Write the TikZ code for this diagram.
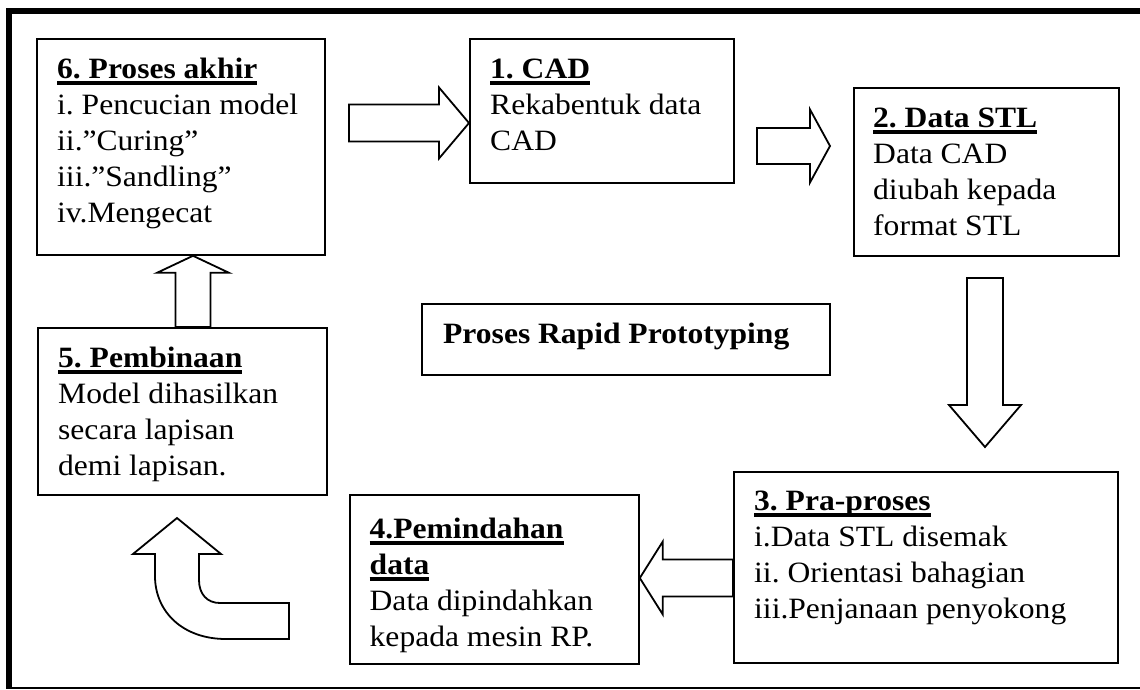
\documentclass[tikz,border=0pt]{standalone}
\usepackage{fontspec}
\setmainfont{Liberation Serif}[FakeStretch=1.07]
\usepackage{tikz}
\usetikzlibrary{calc,positioning}
\frenchspacing

% bold heading with a thick underline under it
\newcommand\tajuk[1]{\leavevmode\setbox0=\hbox{\bfseries #1}\rlap{\rule[-6.5pt]{\wd0}{3.5pt}}\box0}

\begin{document}
\begin{tikzpicture}[x=1pt,y=-1pt,
    box/.style={draw, line width=1.8pt, inner sep=0pt, anchor=north west},
    txt/.style={anchor=north west, inner sep=0pt, align=left,
        font=\fontsize{29.5}{36}\selectfont},
    arrowline/.style={draw, line width=1.8pt, fill=white, line join=miter}]
        % block arrow: tail, tip, half shaft, half head, head length
        \def\blockarrow#1#2#3#4#5{%
        \coordinate (hb) at ($(#2)!#5!(#1)$);
        \draw[arrowline] ($(#1)!#3!90:(#2)$) -- ($(hb)!#3!90:(#2)$)
        -- ($(hb)!#4!90:(#2)$) -- (#2) -- ($(hb)!#4!-90:(#2)$)
        -- ($(hb)!#3!-90:(#2)$) -- ($(#1)!#3!-90:(#2)$) -- cycle;}

        \useasboundingbox (0,0) rectangle (1140,689);

        % frame
        \draw[line width=5.5pt] (6,10.75) -- (1140,10.75);
        \draw[line width=5.5pt] (9,8) -- (9,689);
        \draw[line width=2pt] (9,688) -- (1140,688);

        % boxes
        \node[box, minimum width=288pt, minimum height=216pt] (p6) at (36,38) {};
        \node[box, minimum width=264pt, minimum height=144pt] (p1) at (469,38) {};
        \node[box, minimum width=265pt, minimum height=168pt] (p2) at (853,87) {};
        \node[box, minimum width=384pt, minimum height=191pt] (p3) at (733,471) {};
        \node[box, minimum width=289pt, minimum height=169pt] (p4) at (349,494) {};
        \node[box, minimum width=289pt, minimum height=167pt] (p5) at (37,327) {};
        \node[box, minimum width=408pt, minimum height=71pt] (judul) at (421,303) {};

        \node[txt] (t6) at ($(p6.north west)+(21,14.8)$) {\strut\tajuk{6. Proses akhir}\\
            i. Pencucian model\\ ii.”Curing”\\ iii.”Sandling”\\ iv.Mengecat};
        \node[txt] (t1) at ($(p1.north west)+(21,14.8)$) {\strut\tajuk{1. CAD}\\
            Rekabentuk data\\ CAD};
        \node[txt] (t2) at ($(p2.north west)+(20,14.8)$) {\strut\tajuk{2. Data STL}\\
            Data CAD\\ diubah kepada\\ format STL};
        \node[txt] (t3) at ($(p3.north west)+(21,13.8)$) {\strut\tajuk{3. Pra-proses}\\
            i.Data STL disemak\\ ii. Orientasi bahagian\\ iii.Penjanaan penyokong};
        \node[txt] (t4) at ($(p4.north west)+(20.5,18.8)$) {\strut\tajuk{4.Pemindahan}\\
            \tajuk{data}\\ Data dipindahkan\\ kepada mesin RP.};
        \node[txt] (t5) at ($(p5.north west)+(21,14.8)$) {\strut\tajuk{5. Pembinaan}\\
            Model dihasilkan\\ secara lapisan\\ demi lapisan.};
        \node[txt] (tj) at ($(judul.north west)+(22,14.8)$) {\strut\textbf{Proses Rapid Prototyping}};

        % arrows between the steps
        \coordinate (a61s) at (349,123);
        \coordinate (a61e) at (p1.west |- a61s);
        \coordinate (a12s) at (757,146);
        \coordinate (a12e) at (830,146);
        \coordinate (a23s) at (985,278);
        \coordinate (a23e) at (985,447);
        \coordinate (a34s) at (p3.west |- 0,578);
        \coordinate (a34e) at (p4.east |- a34s);
        \coordinate (a56s) at (p5.north -| 193,0);
        \coordinate (a56e) at (p6.south -| a56s);

        \blockarrow{a61s}{a61e}{18.5pt}{35.5pt}{30pt}
        \blockarrow{a12s}{a12e}{18pt}{36.5pt}{20pt}
        \blockarrow{a23s}{a23e}{18pt}{36pt}{42pt}
        \blockarrow{a34s}{a34e}{18.5pt}{36.5pt}{23pt}
        \blockarrow{a56s}{a56e}{17.5pt}{36pt}{17pt}

        % bent arrow from step 4 back up to step 5
        \draw[arrowline] (177,518) -- (221,554) -- (199,554) -- (199,580)
            .. controls (199,594) and (207,603) .. (220,603) -- (289,603)
            -- (289,639) -- (226,639) .. controls (183,639) and (155,612) .. (155,576)
            -- (155,554) -- (133,554) -- cycle;
    \end{tikzpicture}
\end{document}
